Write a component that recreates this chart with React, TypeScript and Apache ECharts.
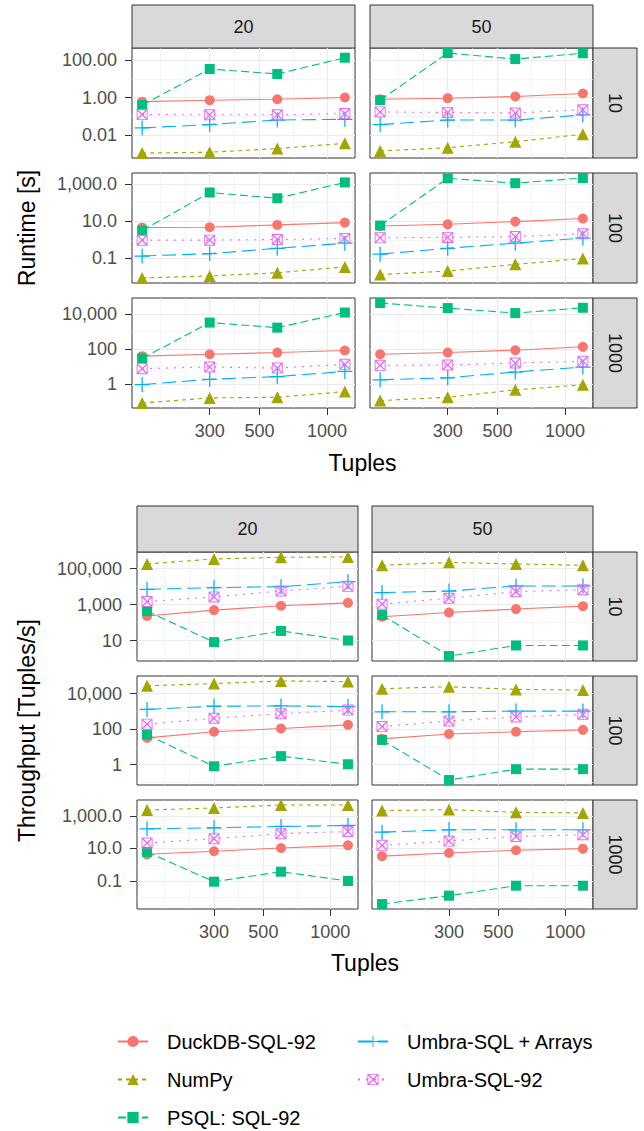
import React, { useEffect, useRef } from "react";
import * as echarts from "echarts";

// ---------------- data ----------------
const tuples = [150, 300, 600, 1200];
const xTickValues = [300, 500, 1000];
const colFacets = ["20", "50"];
const rowFacets = ["10", "100", "1000"];
const seriesNames = ["DuckDB-SQL-92", "NumPy", "PSQL: SQL-92", "Umbra-SQL + Arrays", "Umbra-SQL-92"];

// panel order: [row 10/col 20, row 10/col 50, row 100/col 20, row 100/col 50, row 1000/col 20, row 1000/col 50]
const runtimeDuckDB = [
  [0.6, 0.72, 0.81, 1.0],
  [0.81, 0.92, 1.13, 1.64],
  [4.6, 4.7, 6.3, 8.4],
  [5.5, 6.8, 9.5, 13.8],
  [38, 49, 61, 80],
  [49, 61, 83, 130],
];
const runtimeNumPy = [
  [0.0011, 0.0012, 0.0019, 0.0036],
  [0.0014, 0.0021, 0.0044, 0.011],
  [0.0089, 0.0115, 0.017, 0.035],
  [0.0137, 0.021, 0.048, 0.1],
  [0.08, 0.156, 0.17, 0.36],
  [0.11, 0.17, 0.45, 0.88],
];
const runtimePSQL = [
  [0.39, 33, 18, 132],
  [0.72, 236, 112, 228],
  [3.1, 346, 170, 1200],
  [5.8, 2000, 1100, 2080],
  [28, 3150, 1620, 11800],
  [41500, 21200, 11000, 22200],
];
const runtimeUmbraArrays = [
  [0.024, 0.036, 0.063, 0.069],
  [0.036, 0.063, 0.063, 0.117],
  [0.135, 0.18, 0.35, 0.66],
  [0.17, 0.35, 0.66, 1.24],
  [0.91, 1.8, 2.6, 5.1],
  [1.7, 2.2, 4.7, 9.1],
];
const runtimeUmbra92 = [
  [0.123, 0.12, 0.12, 0.14],
  [0.17, 0.16, 0.15, 0.22],
  [0.96, 0.96, 1.04, 1.18],
  [1.28, 1.34, 1.5, 2.1],
  [7.3, 9.1, 7.9, 13],
  [11.4, 11.9, 15.4, 19.3],
];

const throughputDuckDB = [
  [230, 490, 850, 1240],
  [210, 360, 560, 810],
  [32, 71, 108, 174],
  [28, 53, 71, 91],
  [4.4, 6.8, 10.7, 15.6],
  [3.4, 5.3, 7.8, 9.8],
];
const throughputNumPy = [
  [180000, 340000, 420000, 440000],
  [150000, 220000, 180000, 150000],
  [27700, 37000, 52000, 48000],
  [19000, 24600, 17400, 15900],
  [2250, 3000, 4600, 4600],
  [2080, 2390, 1620, 1490],
];
const throughputPSQL = [
  [430, 8.1, 34, 10],
  [260, 1.37, 5.3, 5.3],
  [48, 0.8, 3.0, 1.04],
  [24.5, 0.134, 0.55, 0.55],
  [6.1, 0.093, 0.38, 0.103],
  [0.004, 0.013, 0.053, 0.053],
];
const throughputUmbraArrays = [
  [7000, 8700, 9800, 18500],
  [4600, 5600, 10700, 10700],
  [1290, 1950, 2040, 1860],
  [950, 950, 1040, 1040],
  [160, 185, 222, 255],
  [100, 140, 140, 140],
];
const throughputUmbra92 = [
  [1460, 2650, 5650, 10200],
  [1050, 2240, 5200, 6700],
  [190, 410, 740, 1180],
  [139, 290, 480, 680],
  [21.5, 40, 80, 110],
  [15.6, 28.5, 55, 69],
];

const runtimeData = [runtimeDuckDB, runtimeNumPy, runtimePSQL, runtimeUmbraArrays, runtimeUmbra92];
const throughputData = [throughputDuckDB, throughputNumPy, throughputPSQL, throughputUmbraArrays, throughputUmbra92];

// ---------------- styles ----------------
const FONT = "'Liberation Sans', Arial, sans-serif";
const seriesColors = ["#F8766D", "#A3A500", "#00BF7D", "#00B0F6", "#E76BF3"];
const PLUS = "path://M5.5,0H6.5V12H5.5Z M0,5.5H12V6.5H0Z";
const BOXX =
  "path://M0,0H12V12H0Z M1,1V11H11V1Z M0.5,1.5L1.5,0.5L11.5,10.5L10.5,11.5Z M11.5,1.5L1.5,11.5L0.5,10.5L10.5,0.5Z";
const seriesSymbols = ["circle", "triangle", "rect", PLUS, BOXX];
const seriesSymbolSizes = [10, 12, 10, 15, 11];
const seriesDashes: any[] = ["solid", [4, 4], [8, 4], [14, 6], [2, 6]];

const figures = [
  {
    title: "Runtime [s]",
    data: runtimeData,
    stripTop: 5,
    stripH: 43,
    rowTops: [48, 173, 298],
    rowH: 110,
    colLefts: [132, 370],
    colW: 223,
    xTitleY: 463,
  },
  {
    title: "Throughput [Tuples/s]",
    data: throughputData,
    stripTop: 506,
    stripH: 46,
    rowTops: [552, 676, 800],
    rowH: 109,
    colLefts: [137, 372],
    colW: 221,
    xTitleY: 963,
  },
];
const STRIP_W = 44;

// ---------------- helpers ----------------
const lg = (v: number) => Math.log10(v);

function expandRange(lo: number, hi: number): [number, number] {
  const d = (hi - lo) * 0.05;
  return [lo - d, hi + d];
}

function logBreaks(lo: number, hi: number): number[] {
  const mn = Math.floor(lo);
  const mx = Math.ceil(hi);
  const by = Math.floor((mx - mn) / 5) + 1;
  const out: number[] = [];
  for (let k = mn; k <= mx + 1e-9; k += by) if (k >= lo && k <= hi) out.push(k);
  return out;
}

function minorBreaks(majors: number[], lo: number, hi: number): number[] {
  if (majors.length < 2) return [];
  const bd = majors[1] - majors[0];
  const b = majors.slice();
  if (lo < b[0]) b.unshift(b[0] - bd);
  if (hi > b[b.length - 1]) b.push(b[b.length - 1] + bd);
  const all: number[] = [];
  for (let i = 0; i < b.length; i++) {
    all.push(b[i]);
    if (i < b.length - 1) all.push((b[i] + b[i + 1]) / 2);
  }
  return all.filter(
    (v) => v > lo && v < hi && !majors.some((m) => Math.abs(m - v) < 1e-6)
  );
}

function buildOption() {
  const grids: any[] = [];
  const xAxes: any[] = [];
  const yAxes: any[] = [];
  const series: any[] = [];
  const graphics: any[] = [];

  const [xlo, xhi] = expandRange(lg(tuples[0]), lg(tuples[tuples.length - 1]));
  const xMajors = xTickValues.map(lg);
  const xMinors = minorBreaks(xMajors, xlo, xhi);

  figures.forEach((fig) => {
    // strips on top
    colFacets.forEach((cf, c) => {
      graphics.push({
        type: "rect",
        shape: { x: fig.colLefts[c], y: fig.stripTop, width: fig.colW, height: fig.stripH },
        style: { fill: "#D9D9D9", stroke: "#333333", lineWidth: 1 },
        silent: true,
      });
      graphics.push({
        type: "text",
        x: fig.colLefts[c] + fig.colW / 2,
        y: fig.stripTop + fig.stripH / 2,
        style: {
          text: cf,
          fill: "#1A1A1A",
          fontSize: 18,
          fontFamily: FONT,
          align: "center",
          verticalAlign: "middle",
        },
        silent: true,
      });
    });
    const stripX = fig.colLefts[1] + fig.colW;
    rowFacets.forEach((rf, r) => {
      graphics.push({
        type: "rect",
        shape: { x: stripX, y: fig.rowTops[r], width: STRIP_W, height: fig.rowH },
        style: { fill: "#D9D9D9", stroke: "#333333", lineWidth: 1 },
        silent: true,
      });
      graphics.push({
        type: "text",
        x: stripX + STRIP_W / 2,
        y: fig.rowTops[r] + fig.rowH / 2,
        rotation: -Math.PI / 2,
        style: {
          text: rf,
          fill: "#1A1A1A",
          fontSize: 18,
          fontFamily: FONT,
          align: "center",
          verticalAlign: "middle",
        },
        silent: true,
      });
    });
    // axis titles
    const panelsBottom = fig.rowTops[2] + fig.rowH;
    graphics.push({
      type: "text",
      x: 27,
      y: (fig.rowTops[0] + panelsBottom) / 2,
      rotation: Math.PI / 2,
      style: {
        text: fig.title,
        fill: "#000000",
        fontSize: 23,
        fontFamily: FONT,
        align: "center",
        verticalAlign: "middle",
      },
      silent: true,
    });
    graphics.push({
      type: "text",
      x: (fig.colLefts[0] + stripX) / 2,
      y: fig.xTitleY,
      style: {
        text: "Tuples",
        fill: "#000000",
        fontSize: 23,
        fontFamily: FONT,
        align: "center",
        verticalAlign: "middle",
      },
      silent: true,
    });

    rowFacets.forEach((_rf, r) => {
      // shared y range per row
      let lo = Infinity;
      let hi = -Infinity;
      fig.data.forEach((s) => {
        [r * 2, r * 2 + 1].forEach((p) =>
          s[p].forEach((v) => {
            lo = Math.min(lo, lg(v));
            hi = Math.max(hi, lg(v));
          })
        );
      });
      const [ylo, yhi] = expandRange(lo, hi);
      const yMajors = logBreaks(ylo, yhi);
      const yMinors = minorBreaks(yMajors, ylo, yhi);
      const decimals = Math.max(0, -Math.min(...yMajors));

      colFacets.forEach((_cf, c) => {
        const g = grids.length;
        grids.push({
          left: fig.colLefts[c],
          top: fig.rowTops[r],
          width: fig.colW,
          height: fig.rowH,
          show: true,
          backgroundColor: "#FFFFFF",
          borderColor: "#333333",
          borderWidth: 1,
          containLabel: false,
          outerBoundsMode: "none",
        });
        const isBottom = r === 2;
        const isLeft = c === 0;
        // main x axis
        xAxes.push({
          type: "value",
          gridIndex: g,
          position: "bottom",
          min: xlo,
          max: xhi,
          axisLine: { show: false, onZero: false },
          axisTick: {
            show: isBottom,
            length: 7,
            customValues: xMajors,
            lineStyle: { color: "#333333", width: 1 },
          },
          axisLabel: {
            show: isBottom,
            customValues: xMajors,
            margin: 14,
            fontSize: 18,
            fontFamily: FONT,
            color: "#4D4D4D",
            formatter: (v: number) => String(Math.round(Math.pow(10, v))),
          },
          splitLine: { show: true, lineStyle: { color: "#EBEBEB", width: 1.1 } },
        });
        // minor x axis
        xAxes.push({
          type: "value",
          gridIndex: g,
          position: "bottom",
          min: xlo,
          max: xhi,
          axisLine: { show: false, onZero: false },
          axisTick: { show: false, customValues: xMinors },
          axisLabel: { show: false, customValues: xMinors },
          splitLine: { show: true, lineStyle: { color: "#EFEFEF", width: 0.6 } },
        });
        yAxes.push({
          type: "value",
          gridIndex: g,
          position: "left",
          min: ylo,
          max: yhi,
          axisLine: { show: false, onZero: false },
          axisTick: {
            show: isLeft,
            length: 7,
            customValues: yMajors,
            lineStyle: { color: "#333333", width: 1 },
          },
          axisLabel: {
            show: isLeft,
            customValues: yMajors,
            margin: 15,
            fontSize: 18,
            fontFamily: FONT,
            color: "#4D4D4D",
            formatter: (v: number) =>
              Math.pow(10, v).toLocaleString("en-US", {
                minimumFractionDigits: decimals,
                maximumFractionDigits: decimals,
              }),
          },
          splitLine: { show: true, lineStyle: { color: "#EBEBEB", width: 1.1 } },
        });
        yAxes.push({
          type: "value",
          gridIndex: g,
          position: "left",
          min: ylo,
          max: yhi,
          axisLine: { show: false, onZero: false },
          axisTick: { show: false, customValues: yMinors },
          axisLabel: { show: false, customValues: yMinors },
          splitLine: { show: true, lineStyle: { color: "#EFEFEF", width: 0.6 } },
        });

        const p = r * 2 + c;
        fig.data.forEach((s, si) => {
          series.push({
            type: "line",
            name: seriesNames[si],
            xAxisIndex: 2 * g,
            yAxisIndex: 2 * g,
            data: tuples.map((t, i) => [lg(t), lg(s[p][i])]),
            symbol: seriesSymbols[si],
            symbolSize: seriesSymbolSizes[si],
            showAllSymbol: true,
            lineStyle: { color: seriesColors[si], width: 1.1, type: seriesDashes[si] },
            itemStyle: { color: seriesColors[si] },
            emphasis: { disabled: true },
            silent: true,
            z: 2 + si * 0.01,
          });
        });
      });
    });
  });

  const legendCommon = {
    orient: "vertical",
    top: 1030,
    padding: 0,
    itemWidth: 30,
    itemHeight: 14,
    itemGap: 15,
    selectedMode: false,
    textStyle: {
      fontSize: 20,
      fontFamily: FONT,
      color: "#000000",
      lineHeight: 23,
      padding: [0, 0, 0, 14],
    },
  };

  return {
    animation: false,
    backgroundColor: "#FFFFFF",
    grid: grids,
    xAxis: xAxes,
    yAxis: yAxes,
    series,
    legend: [
      { ...legendCommon, left: 117, data: seriesNames.slice(0, 3) },
      { ...legendCommon, left: 357, data: seriesNames.slice(3) },
    ],
    graphic: graphics,
  };
}

export default function App() {
  const ref = useRef<HTMLDivElement>(null);
  useEffect(() => {
    document.body.style.margin = "0";
    const chart = echarts.init(ref.current!, null, { renderer: "svg" });
    chart.setOption(buildOption() as any);
    return () => chart.dispose();
  }, []);
  return (
    <div
      ref={ref}
      style={{ width: 644, height: 1131, position: "absolute", left: 0, top: 0 }}
    />
  );
}
